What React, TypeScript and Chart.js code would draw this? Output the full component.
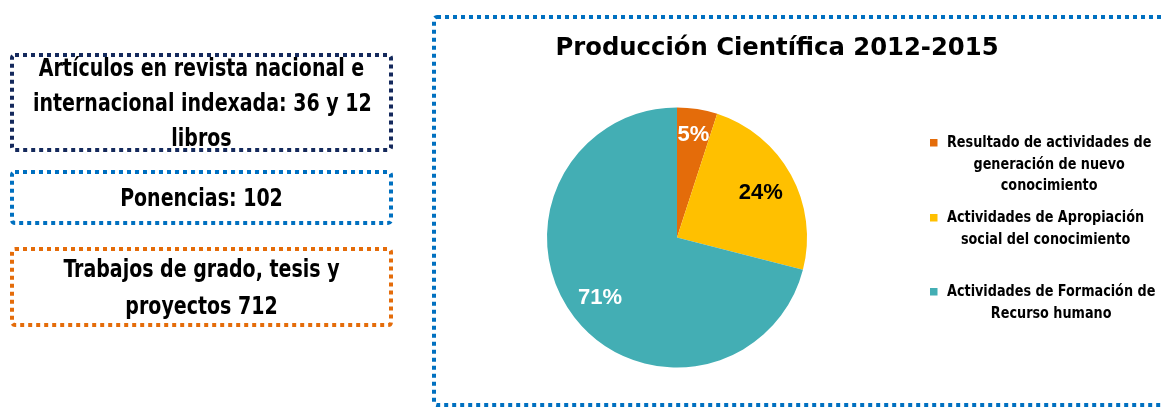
import React, { useEffect, useRef } from "react";
import { Chart, registerables } from "chart.js";

Chart.register(...registerables);

// ---------- data ----------
const categories: string[][] = [
  ["Resultado de actividades de", "generación de nuevo", "conocimiento"],
  ["Actividades de Apropiación", "social del conocimiento"],
  ["Actividades de Formación de", "Recurso humano"],
];
const percentages = [5, 24, 71];
const sliceColors = ["#E46C0A", "#FFC000", "#43AEB4"];
const labelColors = ["#FFFFFF", "#000000", "#FFFFFF"];
const chartTitle = "Producción Científica 2012-2015";

const boxLines: string[][] = [
  ["Artículos en revista nacional e", "internacional indexada: 36 y 12", "libros"],
  ["Ponencias: 102"],
  ["Trabajos de grado, tesis y", "proyectos 712"],
];
const boxColors = ["#14295C", "#0070C0", "#E46C0A"];

// ---------- layout / style ----------
const W = 1164;
const H = 409;
const NARROW = "'DejaVu Sans Condensed', 'Liberation Sans Narrow', sans-serif";
const labelRadial = [0.81, 0.735, 0.75];
const legendBaselines = [147, 222, 296];
const legendLineGap = 21.5;
const legendSquareX = 930;
const legendTextX = 947;
const legendScaleX = 0.89;
const titleScaleX = 1.08;
const boxScaleX = 0.88;

const boxGeom = [
  { x: 12, y: 55, w: 379, h: 95, textTop: 51, lineHeight: 35 },
  { x: 12, y: 172, w: 379, h: 51, textTop: 181, lineHeight: 35 },
  { x: 12, y: 249, w: 379, h: 76, textTop: 251, lineHeight: 37 },
];

function drawScaled(ctx: CanvasRenderingContext2D, text: string, x: number, y: number, sx: number) {
  ctx.save();
  ctx.translate(x, y);
  ctx.scale(sx, 1);
  ctx.fillText(text, 0, 0);
  ctx.restore();
}

const overlayPlugin = {
  id: "overlay",
  afterDatasetsDraw(chart: any) {
    const ctx: CanvasRenderingContext2D = chart.ctx;
    const meta = chart.getDatasetMeta(0);
    ctx.save();
    // slice labels
    ctx.font = "bold 22px 'Liberation Sans', sans-serif";
    ctx.textAlign = "center";
    ctx.textBaseline = "middle";
    meta.data.forEach((arc: any, i: number) => {
      const p = arc.getProps(["x", "y", "startAngle", "endAngle", "outerRadius"], true);
      const mid = (p.startAngle + p.endAngle) / 2;
      const r = p.outerRadius * labelRadial[i];
      ctx.fillStyle = labelColors[i];
      ctx.fillText(`${percentages[i]}%`, p.x + Math.cos(mid) * r, p.y + Math.sin(mid) * r + 1);
    });
    // title
    ctx.font = `bold 25px ${NARROW}`;
    ctx.fillStyle = "#000";
    ctx.textBaseline = "alphabetic";
    ctx.textAlign = "center";
    drawScaled(ctx, chartTitle, 777, 55, titleScaleX);
    // legend
    ctx.font = `bold 16px ${NARROW}`;
    categories.forEach((lines, i) => {
      const base = legendBaselines[i];
      ctx.fillStyle = sliceColors[i];
      ctx.fillRect(legendSquareX, base - 8, 7.5, 7.5);
      const maxW = Math.max(...lines.map((l) => ctx.measureText(l).width)) * legendScaleX;
      const cx = legendTextX + maxW / 2;
      ctx.fillStyle = "#000";
      lines.forEach((l, j) => drawScaled(ctx, l, cx, base + j * legendLineGap, legendScaleX));
    });
    ctx.restore();
  },
};

export default function App() {
  const ref = useRef<HTMLCanvasElement | null>(null);
  useEffect(() => {
    if (!ref.current) return;
    const chart = new Chart(ref.current, {
      type: "pie",
      data: {
        labels: categories,
        datasets: [
          {
            data: percentages,
            backgroundColor: sliceColors,
            borderWidth: 0,
          },
        ],
      },
      options: {
        responsive: false,
        animation: false,
        layout: { padding: { left: 547, right: W - 807, top: 107, bottom: H - 368 } },
        plugins: {
          legend: { display: false },
          title: { display: false },
          tooltip: { enabled: false },
        },
      },
      plugins: [overlayPlugin],
    });
    return () => chart.destroy();
  }, []);

  return (
    <div style={{ position: "absolute", left: 0, top: 0, width: W, height: H, background: "#fff", overflow: "hidden" }}>
      <canvas ref={ref} width={W} height={H} style={{ position: "absolute", left: 0, top: 0, width: W, height: H }} />
      <svg width={W} height={H} style={{ position: "absolute", left: 0, top: 0, pointerEvents: "none" }}>
        {boxGeom.map((g, i) => (
          <rect key={i} x={g.x} y={g.y} width={g.w} height={g.h} rx={3} fill="none" stroke={boxColors[i]} strokeWidth={4} strokeDasharray="4 4" />
        ))}
        <rect x={434} y={17} width={760} height={388} rx={3} fill="none" stroke="#0070C0" strokeWidth={4} strokeDasharray="4 4" />
      </svg>
      {boxLines.map((lines, i) => (
        <div
          key={i}
          style={{
            position: "absolute",
            left: boxGeom[i].x - 2,
            width: boxGeom[i].w + 4,
            top: boxGeom[i].textTop,
            textAlign: "center",
            fontFamily: NARROW,
            fontWeight: "bold",
            fontSize: 24,
            lineHeight: `${boxGeom[i].lineHeight}px`,
            color: "#000",
            whiteSpace: "nowrap",
          }}
        >
          {lines.map((l, j) => (
            <div key={j} style={{ transform: `scaleX(${boxScaleX})`, transformOrigin: "center" }}>
              {l}
            </div>
          ))}
        </div>
      ))}
    </div>
  );
}
